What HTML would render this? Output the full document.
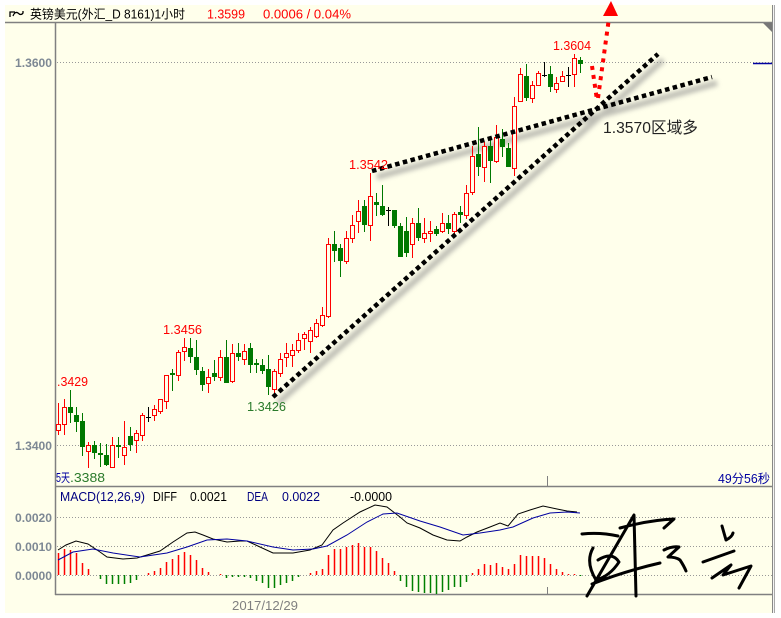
<!DOCTYPE html>
<html><head><meta charset="utf-8">
<style>
html,body{margin:0;padding:0;background:#fff;}
svg{display:block;}
text{font-family:"Liberation Sans","Noto Sans CJK SC",sans-serif;}
</style></head>
<body>
<svg width="781" height="618" viewBox="0 0 781 618" xmlns="http://www.w3.org/2000/svg">
<defs>
<filter id="bl" x="-10%" y="-10%" width="120%" height="120%"><feGaussianBlur stdDeviation="2.5"/></filter>
</defs>
<rect x="0" y="0" width="781" height="618" fill="#ffffff"/>
<rect x="5" y="5" width="768" height="608" fill="#ffffeb"/>
<path d="M772.5 5V613" stroke="#888"/>
<path d="M773.5 5V613" stroke="#f4f4f4"/>
<path d="M774.5 5V613" stroke="#a8a8a8"/>
<path d="M5 22.5H772 M55.5 22V595 M55 486.5H772 M55 594.5H772" stroke="#808080" stroke-width="1.5" fill="none"/>
<path d="M547.5 476V486 M547.5 587V595" stroke="#808080"/>
<polygon points="763,23 772,23 772,32" fill="#777"/>
<path d="M57 62.5H772 M57 445.5H772 M57 517.5H772 M57 546.5H772 M57 575.5H772" stroke="#999" stroke-dasharray="1 2" fill="none"/>
<path d="M753 63.5H772" stroke="#0000a0" stroke-width="1.5"/>

<path d="M10 17 L10 12 L15 12 M13 16 Q15 11 18 13 Q21 16 23 13 L23 11" fill="none" stroke="#000" stroke-width="1.3"/>
<text x="30" y="18.5" font-size="12.5" fill="#000" textLength="155" lengthAdjust="spacingAndGlyphs">英镑美元(外汇_D 8161)1小时</text>
<text x="207" y="18.5" font-size="12.5" fill="#ff0000" textLength="38" lengthAdjust="spacingAndGlyphs">1.3599</text>
<text x="263" y="18.5" font-size="12.5" fill="#ff0000" textLength="88" lengthAdjust="spacingAndGlyphs">0.0006 / 0.04%</text>

<g font-size="12" font-weight="bold" fill="#7d8894">
<text x="15" y="67" textLength="37" lengthAdjust="spacingAndGlyphs">1.3600</text>
<text x="15" y="450" textLength="37" lengthAdjust="spacingAndGlyphs">1.3400</text>
<text x="15" y="522" textLength="37" lengthAdjust="spacingAndGlyphs">0.0020</text>
<text x="15" y="551" textLength="37" lengthAdjust="spacingAndGlyphs">0.0010</text>
<text x="15" y="580" textLength="37" lengthAdjust="spacingAndGlyphs">0.0000</text>
</g>

<path d="M278 403L663 60 M377 177L717 83" stroke="#888" stroke-width="6" opacity="0.55" filter="url(#bl)" fill="none"/>

<path fill="none" stroke="#ff0000" d="M58.5 403V435 M64.5 399V435 M88.5 442V468 M112.5 437V467 M124.5 421V465 M136.5 430V453 M142.5 413V441 M154.5 405V421 M160.5 399V414 M166.5 375V409 M178.5 350V381 M184.5 338V361 M208.5 369V393 M220.5 350V381 M232.5 344V383 M244.5 344V365 M274.5 369V395 M280.5 353V377 M286.5 343V367 M292.5 344V367 M298.5 333V353 M304.5 332V350 M310.5 327V353 M316.5 319V338 M322.5 307V327 M328.5 238V318 M346.5 231V264 M352.5 215V243 M358.5 200V233 M370.5 173V241 M412.5 218V258 M424.5 218V243 M430.5 221V242 M442.5 213V233 M454.5 212V236 M466.5 185V219 M472.5 146V195 M484.5 142V182 M496.5 125V163 M514.5 97V176 M520.5 68V101 M532.5 81V103 M538.5 71V85 M556.5 77V93 M562.5 71V82 M574.5 54V87"/>
<path fill="none" stroke="#007800" d="M70.5 390V423 M76.5 407V432 M82.5 413V456 M94.5 441V459 M100.5 443V467 M106.5 444V466 M118.5 437V458 M130.5 427V451 M172.5 369V391 M190.5 338V363 M196.5 340V375 M202.5 367V391 M214.5 360V381 M226.5 340V383 M238.5 343V361 M250.5 343V373 M256.5 359V373 M262.5 359V374 M268.5 355V395 M334.5 231V262 M340.5 244V277 M364.5 200V232 M376.5 193V216 M382.5 185V216 M394.5 210V228 M400.5 223V257 M406.5 217V257 M418.5 208V241 M436.5 226V236 M448.5 215V234 M460.5 206V223 M478.5 127V176 M490.5 137V183 M502.5 129V157 M508.5 143V167 M526.5 64V101 M550.5 66V92 M580.5 57V73"/>
<path fill="none" stroke="#000" d="M148.5 407V422 M146 417.5H151 M388.5 207V226 M386 210.5H391 M544.5 62V77 M542 75.5H547 M568.5 67V87 M566 75.5H571"/>

<path fill="#ffffeb" stroke="#ff0000" d="M56.5 424.5h4v6h-4z M62.5 407.5h4v17h-4z M86.5 445.5h4v6h-4z M110.5 445.5h4v22h-4z M122.5 447.5h4v8h-4z M134.5 433.5h4v7h-4z M140.5 415.5h4v20h-4z M152.5 409.5h4v6h-4z M158.5 399.5h4v12h-4z M164.5 375.5h4v26h-4z M176.5 352.5h4v23h-4z M182.5 347.5h4v4h-4z M206.5 377.5h4v6h-4z M218.5 357.5h4v20h-4z M230.5 353.5h4v28h-4z M242.5 351.5h4v8h-4z M272.5 371.5h4v18h-4z M278.5 359.5h4v14h-4z M284.5 353.5h4v4h-4z M290.5 350.5h4v5h-4z M296.5 340.5h4v10h-4z M302.5 334.5h4v4h-4z M308.5 330.5h4v11h-4z M314.5 323.5h4v13h-4z M320.5 315.5h4v10h-4z M326.5 244.5h4v72h-4z M344.5 238.5h4v23h-4z M350.5 225.5h4v13h-4z M356.5 211.5h4v10h-4z M368.5 196.5h4v29h-4z M410.5 223.5h4v21h-4z M422.5 233.5h4v5h-4z M428.5 231.5h4v2h-4z M440.5 223.5h4v8h-4z M452.5 214.5h4v17h-4z M464.5 193.5h4v22h-4z M470.5 156.5h4v36h-4z M482.5 146.5h4v21h-4z M494.5 137.5h4v24h-4z M512.5 106.5h4v62h-4z M518.5 74.5h4v27h-4z M530.5 85.5h4v13h-4z M536.5 73.5h4v12h-4z M554.5 83.5h4v6h-4z M560.5 76.5h4v5h-4z M572.5 58.5h4v16h-4z"/>
<path fill="#007800" d="M68 407h5v6h-5z M74 415h5v7h-5z M80 421h5v26h-5z M92 445h5v8h-5z M98 453h5v2h-5z M104 455h5v10h-5z M116 445h5v2h-5z M128 436h5v9h-5z M170 373h5v2h-5z M188 348h5v9h-5z M194 357h5v13h-5z M200 371h5v14h-5z M212 373h5v4h-5z M224 357h5v26h-5z M236 353h5v4h-5z M248 348h5v17h-5z M254 363h5v2h-5z M260 365h5v6h-5z M266 369h5v18h-5z M332 244h5v7h-5z M338 248h5v13h-5z M362 206h5v19h-5z M374 202h5v3h-5z M380 206h5v9h-5z M392 210h5v16h-5z M398 226h5v31h-5z M404 231h5v22h-5z M416 223h5v15h-5z M434 229h5v5h-5z M446 223h5v6h-5z M458 212h5v3h-5z M476 154h5v13h-5z M488 146h5v15h-5z M500 139h5v8h-5z M506 148h5v19h-5z M524 76h5v22h-5z M548 74h5v13h-5z M578 60h5v4h-5z"/>

<path d="M273 397L658 54 M372 171L712 77" stroke="#000" stroke-width="4.5" stroke-dasharray="4.5 3.5" fill="none"/>
<path d="M592 66L597 100 M598 98L609 18" stroke="#ff0000" stroke-width="4" stroke-dasharray="4 5" fill="none"/>
<polygon points="611,1 603,16 618,16" fill="#ff0000"/>

<g font-size="12.5">
<text x="553" y="50" fill="#ff0000" textLength="38" lengthAdjust="spacingAndGlyphs">1.3604</text>
<text x="349" y="169" fill="#ff0000" textLength="39" lengthAdjust="spacingAndGlyphs">1.3542</text>
<text x="163" y="334" fill="#ff0000" textLength="39" lengthAdjust="spacingAndGlyphs">1.3456</text>
<text x="57" y="386" fill="#ff0000" textLength="31" lengthAdjust="spacingAndGlyphs">.3429</text>
<text x="247" y="411" fill="#2a7a2a" textLength="39" lengthAdjust="spacingAndGlyphs">1.3426</text>
<text x="56" y="482" fill="#0000a0" textLength="14" lengthAdjust="spacingAndGlyphs">5天</text>
<text x="70" y="482" fill="#2a7a2a" textLength="35" lengthAdjust="spacingAndGlyphs">.3388</text>
<text x="718" y="483" fill="#0000a0" textLength="52" lengthAdjust="spacingAndGlyphs">49分56秒</text>
<text x="60" y="501" fill="#000080" textLength="85" lengthAdjust="spacingAndGlyphs">MACD(12,26,9)</text>
<text x="153" y="501" fill="#000" textLength="24" lengthAdjust="spacingAndGlyphs">DIFF</text>
<text x="190" y="501" fill="#000" textLength="37" lengthAdjust="spacingAndGlyphs">0.0021</text>
<text x="247" y="501" fill="#000080" textLength="21" lengthAdjust="spacingAndGlyphs">DEA</text>
<text x="282" y="501" fill="#000080" textLength="38" lengthAdjust="spacingAndGlyphs">0.0022</text>
<text x="350" y="501" fill="#000" textLength="42" lengthAdjust="spacingAndGlyphs">-0.0000</text>
</g>
<text x="603" y="133" font-size="16" fill="#222" textLength="95" lengthAdjust="spacingAndGlyphs">1.3570区域多</text>
<text x="232" y="610" font-size="13" fill="#808080" textLength="66" lengthAdjust="spacingAndGlyphs">2017/12/29</text>

<path fill="none" stroke="#ff0000" stroke-width="1.5" d="M58.5 575V553 M64.5 575V549 M70.5 575V550 M76.5 575V553 M82.5 575V563 M88.5 575V569 M148.5 575V573 M154.5 575V571 M160.5 575V568 M166.5 575V562 M172.5 575V559 M178.5 575V555 M184.5 575V552 M190.5 575V555 M196.5 575V560 M202.5 575V568 M208.5 575V572 M220.5 575V574 M310.5 575V573 M316.5 575V571 M322.5 575V569 M328.5 575V555 M334.5 575V549 M340.5 575V549 M346.5 575V547 M352.5 575V545 M358.5 575V543 M364.5 575V547 M370.5 575V547 M376.5 575V551 M382.5 575V558 M388.5 575V563 M394.5 575V571 M472.5 575V573 M478.5 575V569 M484.5 575V564 M490.5 575V565 M496.5 575V563 M502.5 575V567 M508.5 575V569 M514.5 575V564 M520.5 575V555 M526.5 575V556 M532.5 575V556 M538.5 575V556 M544.5 575V558 M550.5 575V564 M556.5 575V569 M562.5 575V572 M568.5 575V574 M574.5 575V574"/>
<path fill="none" stroke="#008000" stroke-width="1.5" d="M100.5 575V579 M106.5 575V584 M112.5 575V584 M118.5 575V584 M124.5 575V584 M130.5 575V583 M136.5 575V580 M226.5 575V578 M232.5 575V577 M238.5 575V577 M244.5 575V577 M250.5 575V578 M256.5 575V581 M262.5 575V583 M268.5 575V588 M274.5 575V588 M280.5 575V585 M286.5 575V583 M292.5 575V581 M298.5 575V577 M400.5 575V581 M406.5 575V587 M412.5 575V591 M418.5 575V592 M424.5 575V593 M430.5 575V593 M436.5 575V594 M442.5 575V592 M448.5 575V590 M454.5 575V587 M460.5 575V587 M466.5 575V582 M580.5 575V576"/>

<polyline fill="none" stroke="#000" points="58,550 66,545 76,541 88,544 100,552 107,557 123,559 137,558 147,555 160,551 173,542 187,533 195,532 203,535 213,539 227,542 240,541 247,541 260,547 273,553 293,553 310,550 322,545 333,530 343,523 360,512 375,505 387,507 400,517 407,523 420,528 433,535 447,540 460,541 467,537 477,532 490,527 500,523 508,526 518,514 530,510 543,506 557,509 567,511 577,512"/>
<polyline fill="none" stroke="#0000a0" points="58,560 73,552 93,549 113,553 140,557 167,553 187,547 207,540 227,539 247,541 273,547 293,550 313,549 327,546 347,535 367,522 383,514 397,513 420,521 440,527 463,535 480,533 500,530 513,527 533,518 550,513 567,512 580,513"/>

<path fill="none" stroke="#000" stroke-width="3" stroke-linecap="round" stroke-linejoin="round" d="M582 534 Q600 532 618 536 M587 596 L634 515 L636 596 M592 584 Q625 571 660 563 M593 548 Q585 562 596 580 Q610 576 619 562 Q612 551 598 560 M620 528 Q650 520 674 519 L664 528 M664 550 Q672 546 679 547 L668 557 Q676 557 680 560 Q684 566 686 571 M722 526 L726 540 Q732 537 733 533 M703 562 Q720 556 734 551 M712 578 L731 565 L723 575 L751 566 L739 588"/>
</svg>
</body></html>
